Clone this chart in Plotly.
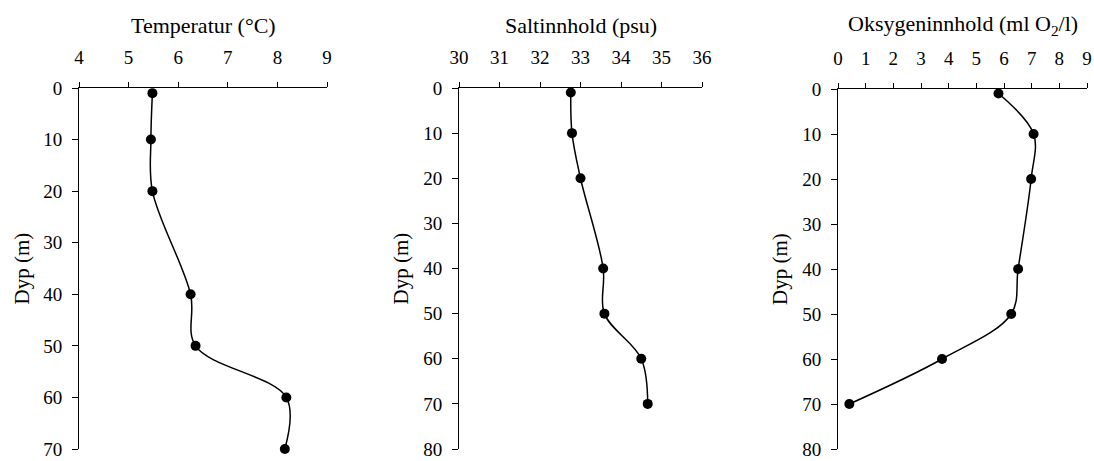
import plotly.graph_objects as go

# Depth profiles (m) and measured values
depth = [1, 10, 20, 40, 50, 60, 70]
temperature = [5.48, 5.45, 5.48, 6.25, 6.35, 8.18, 8.15]
salinity = [32.76, 32.79, 33.0, 33.56, 33.59, 34.5, 34.66]
oxygen = [5.8, 7.07, 6.98, 6.51, 6.26, 3.76, 0.41]

panel_titles = ["Temperatur (°C)", "Saltinnhold (psu)", "Oksygeninnhold (ml O<sub>2</sub>/l)"]
y_title = "Dyp (m)"

W, H = 1094, 461
FONT = "Liberation Serif, Times New Roman, serif"

# plot-area boxes in pixels: (left, right, top, bottom)
boxes = [(79, 327, 88, 449), (459, 702, 88, 449), (838, 1087, 89, 449)]
xranges = [[4, 9], [30, 36], [0, 9]]
yranges = [[70, 0], [80, 0], [80, 0]]
ytitle_x = [21, 400, 780]

series = [temperature, salinity, oxygen]

fig = go.Figure()
layout = dict(
    width=W, height=H,
    margin=dict(l=0, r=0, t=0, b=0),
    paper_bgcolor="white", plot_bgcolor="white",
    showlegend=False,
    font=dict(family=FONT, color="black", size=19),
    annotations=[],
)

for i, (vals, box) in enumerate(zip(series, boxes)):
    n = "" if i == 0 else str(i + 1)
    l, r, t, b = box
    fig.add_trace(go.Scatter(
        x=vals, y=depth, mode="lines+markers",
        line=dict(color="black", width=1.5, shape="spline", smoothing=1),
        marker=dict(color="black", size=10),
        cliponaxis=False,
        xaxis="x" + n, yaxis="y" + n,
    ))
    layout["xaxis" + n] = dict(
        domain=[l / W, r / W], anchor="y" + n, side="top",
        range=xranges[i], dtick=1, showgrid=False, zeroline=False,
        showline=True, linecolor="black", linewidth=1,
        ticks="outside", ticklen=5, tickcolor="black", tickwidth=1,
        tickfont=dict(family=FONT, size=19, color="black"),
        ticklabelstandoff=10, ticklabeloverflow="allow",
        automargin=False, fixedrange=True,
    )
    layout["yaxis" + n] = dict(
        domain=[1 - b / H, 1 - t / H], anchor="x" + n,
        range=yranges[i], dtick=10, showgrid=False, zeroline=False,
        showline=True, linecolor="black", linewidth=1,
        ticks="outside", ticklen=6, tickcolor="black", tickwidth=1,
        tickfont=dict(family=FONT, size=19, color="black"),
        ticklabelstandoff=6, ticklabeloverflow="allow",
        automargin=False, fixedrange=True,
    )
    layout["annotations"].append(dict(
        text=panel_titles[i], xref="paper", yref="paper",
        x=(l + r) / 2 / W, y=1 - 25 / H, xanchor="center", yanchor="middle",
        showarrow=False, font=dict(family=FONT, size=22, color="black"),
    ))
    layout["annotations"].append(dict(
        text=y_title, xref="paper", yref="paper", textangle=-90,
        x=ytitle_x[i] / W, y=1 - (t + b) / 2 / H, xanchor="center", yanchor="middle",
        showarrow=False, font=dict(family=FONT, size=21, color="black"),
    ))

fig.update_layout(**layout)
fig.write_html("out.html")
